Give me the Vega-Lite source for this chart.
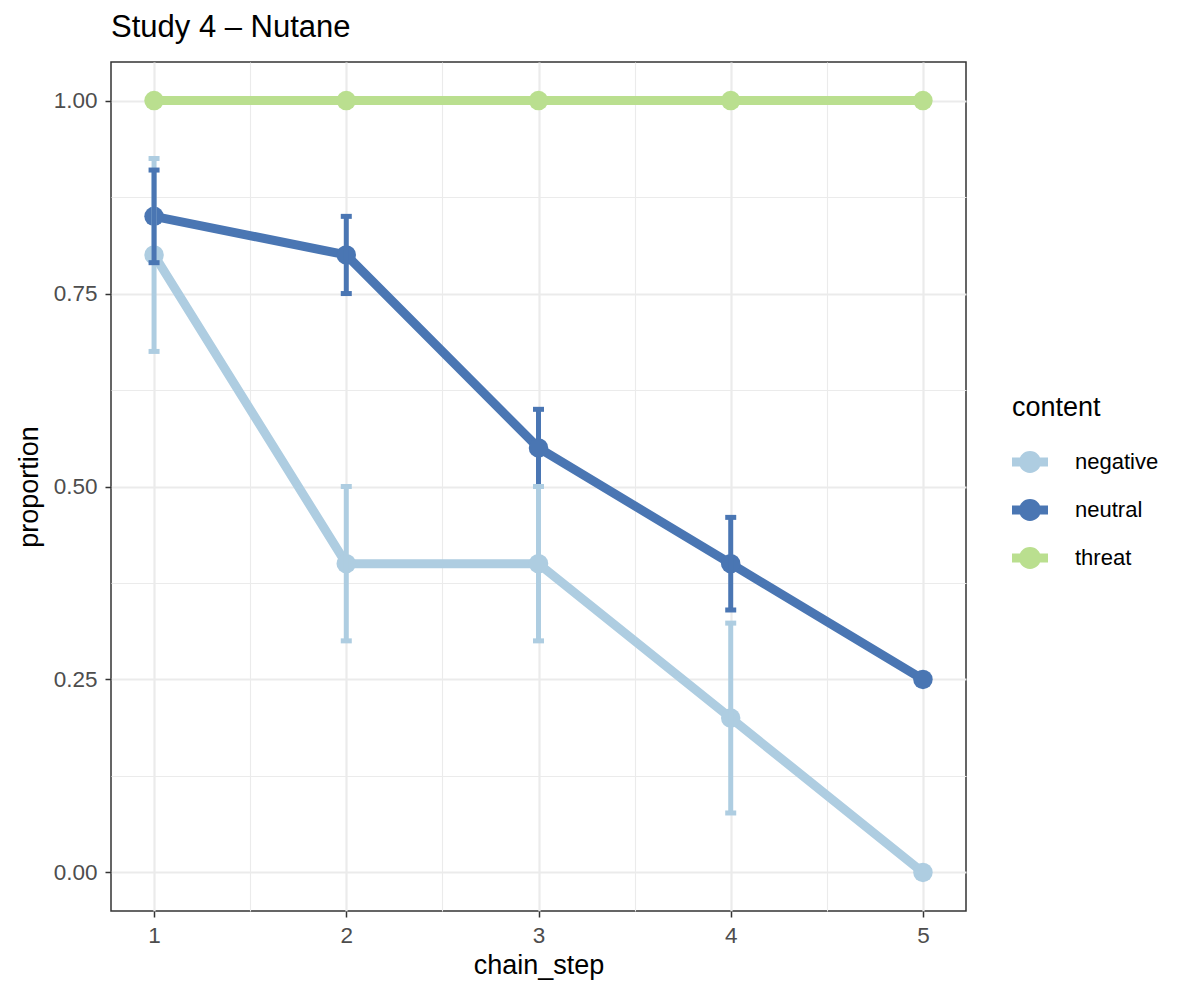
{
  "$schema": "https://vega.github.io/schema/vega-lite/v6.json",
  "autosize": {"type": "none"},
  "padding": {"left": 111, "top": 62, "right": 214, "bottom": 79},
  "width": 855,
  "height": 849,
  "background": "white",
  "title": {"text": "Study 4 – Nutane", "anchor": "start", "frame": "group", "font": "Liberation Sans", "fontSize": 31, "fontWeight": "normal", "color": "black", "offset": 18},
  "config": {
    "view": {"stroke": "#333333", "strokeWidth": 1.5},
    "axis": {
      "labelFont": "Liberation Sans", "labelFontSize": 22.5, "labelColor": "#4d4d4d",
      "titleFont": "Liberation Sans", "titleFontSize": 27, "titleFontWeight": "normal", "titleColor": "black",
      "tickColor": "#333333", "tickSize": 6, "tickWidth": 1.5, "domain": false,
      "gridColor": "#ebebeb"
    },
    "legend": {"labelFont": "Liberation Sans", "titleFont": "Liberation Sans"}
  },
  "resolve": {"legend": {"color": "independent"}},
  "data": {"values": [
    {"chain_step": 1, "content": "negative", "proportion": 0.8, "lo": 0.675, "hi": 0.925},
    {"chain_step": 2, "content": "negative", "proportion": 0.4, "lo": 0.3, "hi": 0.5},
    {"chain_step": 3, "content": "negative", "proportion": 0.4, "lo": 0.3, "hi": 0.5},
    {"chain_step": 4, "content": "negative", "proportion": 0.2, "lo": 0.077, "hi": 0.323},
    {"chain_step": 5, "content": "negative", "proportion": 0.0, "lo": null, "hi": null},
    {"chain_step": 1, "content": "neutral", "proportion": 0.85, "lo": 0.79, "hi": 0.91},
    {"chain_step": 2, "content": "neutral", "proportion": 0.8, "lo": 0.75, "hi": 0.85},
    {"chain_step": 3, "content": "neutral", "proportion": 0.55, "lo": 0.5, "hi": 0.6},
    {"chain_step": 4, "content": "neutral", "proportion": 0.4, "lo": 0.34, "hi": 0.46},
    {"chain_step": 5, "content": "neutral", "proportion": 0.25, "lo": null, "hi": null},
    {"chain_step": 1, "content": "threat", "proportion": 1.0, "lo": null, "hi": null},
    {"chain_step": 2, "content": "threat", "proportion": 1.0, "lo": null, "hi": null},
    {"chain_step": 3, "content": "threat", "proportion": 1.0, "lo": null, "hi": null},
    {"chain_step": 4, "content": "threat", "proportion": 1.0, "lo": null, "hi": null},
    {"chain_step": 5, "content": "threat", "proportion": 1.0, "lo": null, "hi": null}
  ]},
  "encoding": {
    "x": {"field": "chain_step", "type": "quantitative",
      "scale": {"domain": [0.776, 5.224], "nice": false, "zero": false},
      "axis": {"title": "chain_step", "values": [1, 1.5, 2, 2.5, 3, 3.5, 4, 4.5, 5],
        "labelExpr": "datum.value % 1 == 0 ? format(datum.value, 'd') : ''",
        "tickOpacity": {"condition": {"test": "datum.value % 1 == 0", "value": 1}, "value": 0},
        "gridWidth": {"condition": {"test": "datum.value % 1 == 0", "value": 2.2}, "value": 1.1},
        "titlePadding": 6, "labelPadding": 7}},
    "y": {"field": "proportion", "type": "quantitative",
      "scale": {"domain": [-0.05, 1.05], "nice": false, "zero": false},
      "axis": {"title": "proportion", "values": [0, 0.125, 0.25, 0.375, 0.5, 0.625, 0.75, 0.875, 1],
        "labelExpr": "(datum.value * 4) % 1 == 0 ? format(datum.value, '.2f') : ''",
        "tickOpacity": {"condition": {"test": "(datum.value * 4) % 1 == 0", "value": 1}, "value": 0},
        "gridWidth": {"condition": {"test": "(datum.value * 4) % 1 == 0", "value": 2.2}, "value": 1.1},
        "titlePadding": 10, "labelPadding": 8}}
  },
  "layer": [
    {
      "mark": {"type": "line", "strokeWidth": 9},
      "encoding": {
        "color": {"field": "content", "type": "nominal",
          "scale": {"domain": ["negative", "neutral", "threat"], "range": ["#aecde1", "#4a76b3", "#badf8f"]},
          "legend": null}
      }
    },
    {
      "mark": {"type": "point", "filled": true, "opacity": 1, "size": 380},
      "encoding": {
        "color": {"field": "content", "type": "nominal",
          "scale": {"domain": ["negative", "neutral", "threat"], "range": ["#aecde1", "#4a76b3", "#badf8f"]},
          "legend": {
            "title": "content", "orient": "none", "legendX": 901, "legendY": 333,
            "titleFontSize": 27, "titleFontWeight": "normal", "titleColor": "black", "titlePadding": 22,
            "labelFontSize": 22, "labelColor": "black", "labelOffset": 27,
            "symbolType": "M -1 -0.25 H 1 V 0.25 H -1 Z M 0.61 0 A 0.61 0.61 0 1 1 -0.61 0 A 0.61 0.61 0 1 1 0.61 0 Z",
            "symbolSize": 1296, "symbolStrokeWidth": 0, "rowPadding": 19, "symbolOpacity": 1
          }}
      }
    },
    {
      "mark": {"type": "rule", "strokeWidth": 5, "opacity": 1},
      "encoding": {
        "y": {"field": "lo", "type": "quantitative"},
        "y2": {"field": "hi"},
        "color": {"field": "content", "type": "nominal", "legend": null}
      }
    },
    {
      "mark": {"type": "tick", "orient": "horizontal", "size": 11, "thickness": 5, "opacity": 1},
      "encoding": {
        "y": {"field": "lo", "type": "quantitative"},
        "color": {"field": "content", "type": "nominal", "legend": null}
      }
    },
    {
      "mark": {"type": "tick", "orient": "horizontal", "size": 11, "thickness": 5, "opacity": 1},
      "encoding": {
        "y": {"field": "hi", "type": "quantitative"},
        "color": {"field": "content", "type": "nominal", "legend": null}
      }
    }
  ]
}
